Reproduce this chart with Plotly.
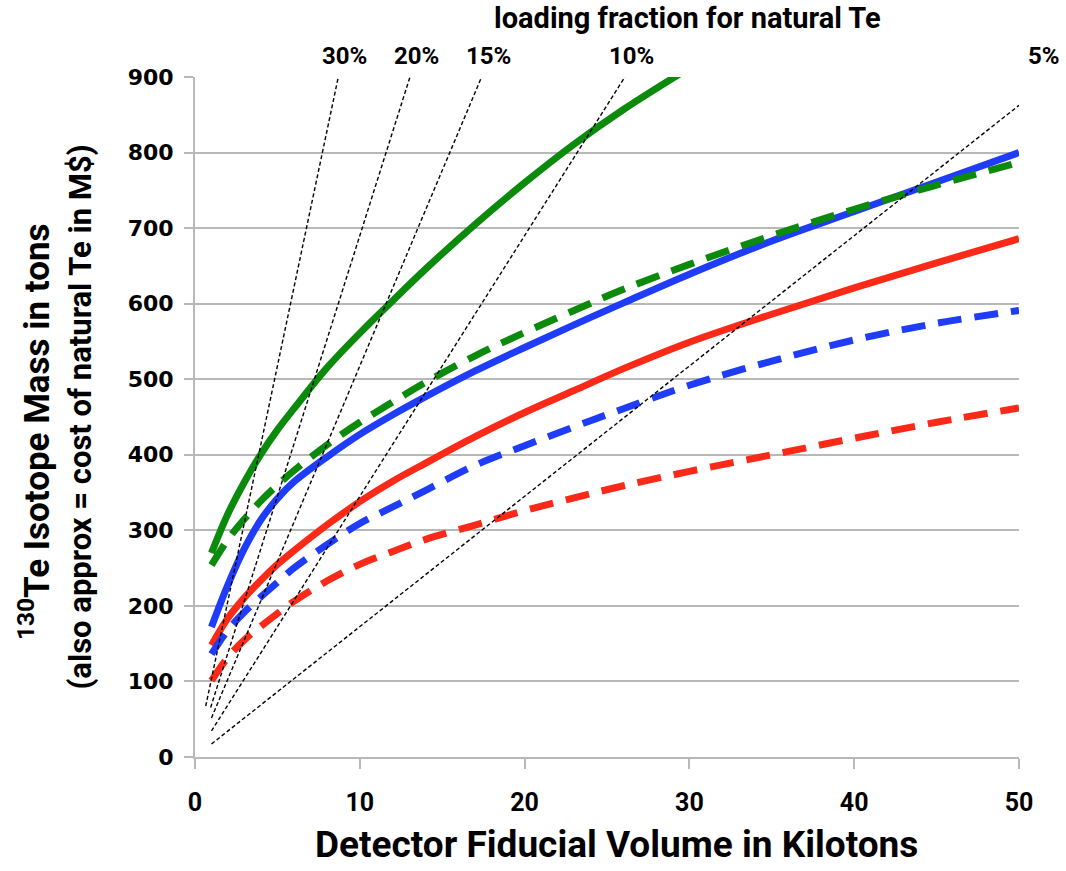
import plotly.graph_objects as go

# Detector fiducial volume (kilotons) at which the curves are sampled
volume_kt = [1, 2, 3, 4, 5, 6, 8, 10, 12, 14, 17, 20, 23, 26, 30, 35, 40, 45, 50]

# 130Te isotope mass (tons) needed, per scenario
green_solid = [270, 322, 364, 401, 433, 461, 515, 561, 604, 646, 705, 760, 811, 857, 912, None, None, None, None]
green_dash = [254, 288, 315, 339, 360, 379, 413, 443, 470, 496, 531, 562, 591, 619, 652, 690, 725, 757, 787]
blue_solid = [172, 228, 276, 314, 342, 364, 397, 427, 453, 477, 511, 542, 572, 601, 639, 683, 722, 761, 800]
blue_dash = [136, 168, 192, 212, 231, 250, 281, 309, 331, 353, 386, 412, 437, 461, 492, 524, 552, 574, 591]
red_solid = [148, 184, 211, 234, 255, 273, 307, 338, 365, 389, 424, 456, 485, 514, 549, 586, 621, 654, 686]
red_dash = [101, 132, 155, 173, 190, 206, 233, 255, 272, 288, 307, 326, 343, 359, 378, 400, 422, 443, 462]

# Loading fractions of natural Te (percent) and where each guide line begins (kt)
loading_pct = [30, 20, 15, 10, 5]
loading_start_kt = [0.65, 0.95, 1.0, 1.0, 1.0]
te130_t_per_kt_per_pct = 3.45  # tons of 130Te per kiloton per percent of natural Te loading

y_max = 900
x_max = 50

GREEN = "#0b8a0b"
BLUE = "#1f3cf8"
RED = "#fb2a18"
GRID = "#b8b8b8"
SANS = "Roboto, 'Open Sans', sans-serif"

fig = go.Figure()

curves = [
    (red_solid, RED, "solid"),
    (red_dash, RED, "24px,13px"),
    (blue_solid, BLUE, "solid"),
    (blue_dash, BLUE, "24px,13px"),
    (green_solid, GREEN, "solid"),
    (green_dash, GREEN, "24px,13px"),
]
for ys, color, dash in curves:
    fig.add_trace(go.Scatter(
        x=volume_kt, y=ys, mode="lines",
        line=dict(color=color, width=7, dash=dash, shape="spline", smoothing=1.0),
        hoverinfo="x+y", showlegend=False,
    ))

# Constant-loading guide lines: mass = loading * abundance * volume
for pct, x0 in zip(loading_pct, loading_start_kt):
    slope = pct * te130_t_per_kt_per_pct
    x_top = y_max / slope
    x1 = min(x_max, x_top)
    fig.add_trace(go.Scatter(
        x=[x0, x1], y=[slope * x0, slope * x1], mode="lines",
        line=dict(color="black", width=1.4, dash="4px,2.5px"),
        hoverinfo="skip", showlegend=False,
    ))
    label_x = min(x_top + 0.4, 51.5)
    fig.add_annotation(
        x=label_x / x_max, y=1, xref="paper", yref="paper",
        text=f"{pct}%", showarrow=False, xanchor="center", yanchor="bottom", yshift=5,
        font=dict(family=SANS, size=24, color="black", weight="bold"),
    )

fig.add_annotation(
    x=0.598, y=1, xref="paper", yref="paper", yshift=40, yanchor="bottom", xanchor="center",
    text="loading fraction for natural Te", showarrow=False,
    font=dict(family=SANS, size=29, color="black", weight="bold"),
)

# Axis titles
fig.add_annotation(
    x=0.512, y=-0.1635, xref="paper", yref="paper", yanchor="bottom", xanchor="center",
    text="Detector Fiducial Volume in Kilotons", showarrow=False,
    font=dict(family=SANS, size=37, color="black", weight="bold"),
)
fig.add_annotation(
    x=-0.194, y=0.478, xref="paper", yref="paper", textangle=-90,
    xanchor="center", yanchor="middle",
    text="<sup>130</sup>Te Isotope Mass in tons", showarrow=False,
    font=dict(family=SANS, size=35, color="black", weight="bold"),
)
fig.add_annotation(
    x=-0.139, y=0.50, xref="paper", yref="paper", textangle=-90,
    xanchor="center", yanchor="middle",
    text="(also approx = cost of natural Te in M$)", showarrow=False,
    font=dict(family=SANS, size=31, color="black", weight="bold"),
)

fig.update_xaxes(
    range=[0, x_max], tickvals=[0, 10, 20, 30, 40, 50],
    showgrid=False, zeroline=False,
    showline=True, linecolor=GRID, linewidth=2,
    ticks="outside", ticklen=10, tickwidth=2, tickcolor=GRID,
    ticklabelstandoff=12,
    tickfont=dict(family=SANS, size=25, color="black", weight="bold"),
)
fig.update_yaxes(
    range=[0, y_max], tickvals=list(range(0, 901, 100)),
    showgrid=True, gridcolor=GRID, gridwidth=2, zeroline=False,
    showline=True, linecolor=GRID, linewidth=2,
    ticks="outside", ticklen=9, tickwidth=2, tickcolor=GRID,
    ticklabelstandoff=6,
    tickfont=dict(family="DejaVu Sans, Verdana, sans-serif", size=22, color="black", weight="bold"),
)

fig.update_layout(
    width=1066, height=871,
    margin=dict(l=195, r=47, t=77, b=114),
    paper_bgcolor="white", plot_bgcolor="white",
    showlegend=False,
)

fig.write_html("out.html")
